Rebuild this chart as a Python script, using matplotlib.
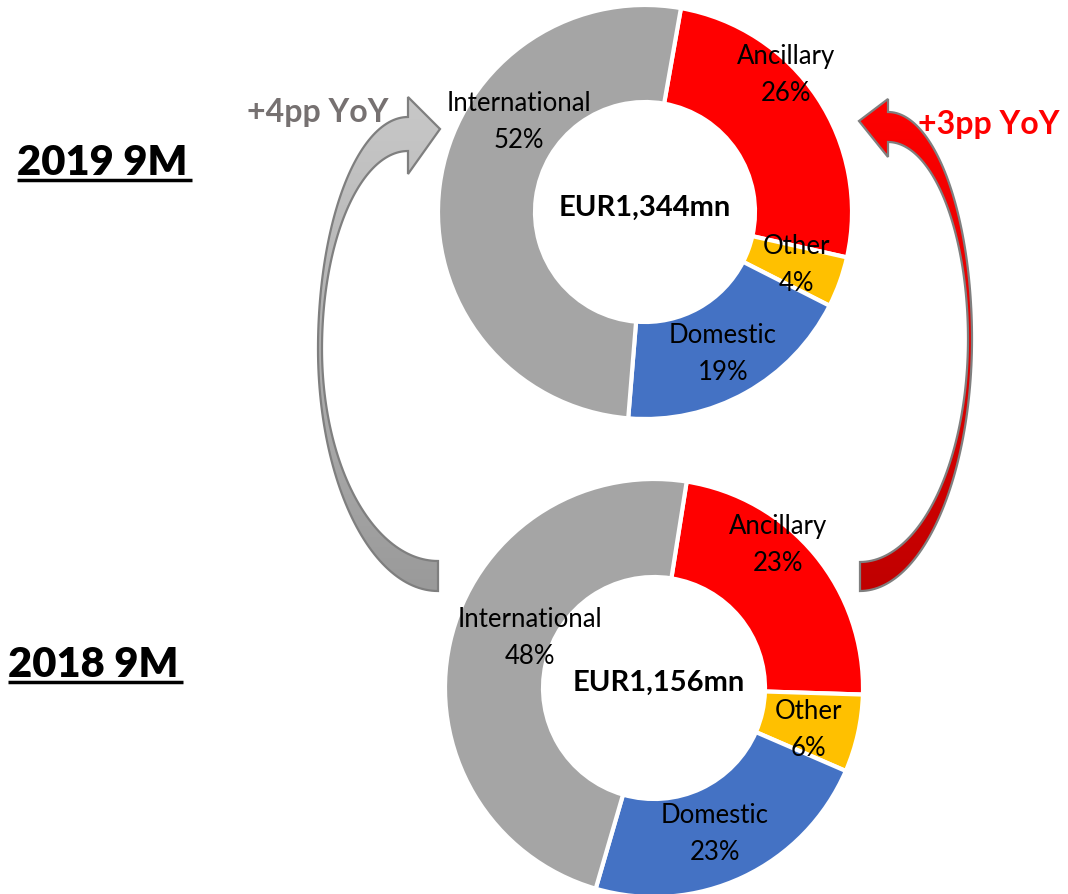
import numpy as np
import matplotlib
matplotlib.use("Agg")
import matplotlib.pyplot as plt
from matplotlib.patches import Polygon
from matplotlib.colors import LinearSegmentedColormap

# ---- data ----
segments = ["Ancillary", "Other", "Domestic", "International"]
share_2019 = [26, 4, 19, 52]
share_2018 = [23, 6, 23, 48]
totals = ["EUR1,344mn", "EUR1,156mn"]
periods = ["2019 9M", "2018 9M"]
yoy_labels = ["+4pp YoY", "+3pp YoY"]

seg_colors = ["#FF0000", "#FFC000", "#4472C4", "#A5A5A5"]

W, H = 1068, 895
FONT = "Lato"
plt.rcParams['font.family'] = [FONT, 'DejaVu Sans']

fig = plt.figure(figsize=(W / 100, H / 100), dpi=100)
ax = fig.add_axes([0, 0, 1, 1])


def Y(yp):
    return H - yp


# ---- donuts ----
donuts = [
    dict(vals=share_2019, cx=645, cy=213, R=207, r=110, start=80,
         total=totals[0], tpos=(645, 208),
         lpos=[(786, 75), (796, 265), (723, 354), (519, 122)]),
    dict(vals=share_2018, cx=654, cy=689, R=209, r=111, start=81,
         total=totals[1], tpos=(659, 683),
         lpos=[(778, 545), (808, 730), (715, 834), (530, 638)]),
]

for d in donuts:
    ax.pie(d["vals"], colors=seg_colors, center=(d["cx"], Y(d["cy"])),
           radius=d["R"], startangle=d["start"], counterclock=False,
           wedgeprops=dict(width=d["R"] - d["r"], edgecolor="white",
                           linewidth=3))
    for seg, v, (lx, ly) in zip(segments, d["vals"], d["lpos"]):
        ax.text(lx, Y(ly), f"{seg}\n{v}%", ha="center", va="center",
                fontsize=18.5, linespacing=1.6, color="black")
    ax.text(d["tpos"][0], Y(d["tpos"][1]), d["total"], ha="center",
            va="center", fontsize=21, fontweight="bold", color="black")


# ---- curved arrows ----
def qell(cx, cy, a, b, t0, t1, n=60):
    t = np.radians(np.linspace(t0, t1, n))
    return np.column_stack([cx + a * np.cos(t), cy - b * np.sin(t)])


def gradient_patch(pts, c_top, c_bot):
    ptsY = np.column_stack([pts[:, 0], Y(pts[:, 1])])
    poly = Polygon(ptsY, closed=True, facecolor="none", edgecolor="#7F7F7F",
                   linewidth=1.6, zorder=3)
    ax.add_patch(poly)
    x0, x1 = ptsY[:, 0].min(), ptsY[:, 0].max()
    y0, y1 = ptsY[:, 1].min(), ptsY[:, 1].max()
    cmap = LinearSegmentedColormap.from_list("g", [c_bot, c_top])
    grad = np.linspace(0, 1, 256).reshape(-1, 1)
    im = ax.imshow(grad, cmap=cmap, extent=(x0, x1, y0, y1), origin="lower",
                   aspect="auto", zorder=2, interpolation="bilinear")
    im.set_clip_path(poly)


# left (gray) arrow
left = np.vstack([
    qell(408, 350, 90, 232, 90, 180),
    qell(438, 350, 120, 242, 180, 270),
    [[438, 562]],
    qell(438, 350, 116, 212, 270, 180),
    qell(408, 350, 86, 198, 180, 90),
    [[408, 175], [440, 130], [408, 98]],
])
gradient_patch(left, "#C8C8C8", "#9A9A9A")

# right (red) arrow
right = np.vstack([
    qell(888, 340, 84, 227, 90, 0),
    qell(860, 340, 112, 252, 0, -90),
    [[860, 563]],
    qell(860, 340, 108, 223, -90, 0),
    qell(888, 340, 80, 197, 0, 90),
    [[888, 158], [859, 122], [888, 100]],
])
gradient_patch(right, "#FF0000", "#C00000")

# ---- texts ----
ax.text(318, Y(112), yoy_labels[0], ha="center", va="center", fontsize=23,
        fontweight="bold", color="#767171")
ax.text(989, Y(124), yoy_labels[1], ha="center", va="center", fontsize=23,
        fontweight="bold", color="#FF0000")

for (txt, x0, yb, x1, yu) in [(periods[0], 17, 175, 192, 181),
                              (periods[1], 8, 677, 183, 683)]:
    ax.text(x0, Y(yb), txt, ha="left", va="baseline", fontsize=30,
            fontweight="heavy", color="black")
    ax.plot([x0, x1], [Y(yu), Y(yu)], color="black", linewidth=2.5,
            solid_capstyle="butt")

ax.set_xlim(0, W)
ax.set_ylim(0, H)
ax.set_aspect("auto")
ax.axis("off")
fig.savefig("out.png", dpi=100, facecolor="white")
